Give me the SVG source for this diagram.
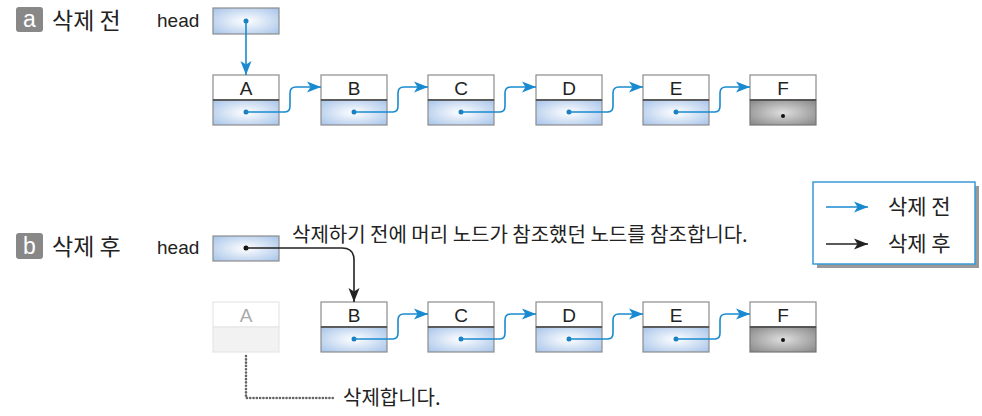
<svg xmlns="http://www.w3.org/2000/svg" width="982" height="416" viewBox="0 0 982 416">
<defs>
<radialGradient id="gb" cx="0.5" cy="0.5" r="0.75">
<stop offset="0" stop-color="#ffffff"/><stop offset="1" stop-color="#9fbfe8"/>
</radialGradient>
<radialGradient id="gg" cx="0.5" cy="0.5" r="0.75">
<stop offset="0" stop-color="#dedede"/><stop offset="1" stop-color="#7f7f7f"/>
</radialGradient>
<marker id="ab" markerUnits="userSpaceOnUse" markerWidth="16" markerHeight="12" refX="15" refY="6" orient="auto">
<path d="M1,0.5 L15,6 L1,11.5 L4.5,6 z" fill="#1a8ad0"/>
</marker>
<marker id="ak" markerUnits="userSpaceOnUse" markerWidth="16" markerHeight="12" refX="15" refY="6" orient="auto">
<path d="M1,0.5 L15,6 L1,11.5 L4.5,6 z" fill="#222"/>
</marker>
</defs>
<style>
.ko{font-family:"Noto Sans CJK KR","Noto Sans",sans-serif;fill:#222}
.la{font-family:"Liberation Sans",Arial,sans-serif;fill:#222}
.top{fill:#fff;stroke:#8c8c8c;stroke-width:1.2}
.bot{fill:url(#gb);stroke:#8c8c8c;stroke-width:1.2}
.botg{fill:url(#gg);stroke:#777;stroke-width:1.2}
.div{stroke:#444;stroke-width:1.5}
.ltr{font-family:"Liberation Sans",Arial,sans-serif;font-size:19px;fill:#222;text-anchor:middle}
.bl{fill:none;stroke:#1a8ad0;stroke-width:1.6}
.bk{fill:none;stroke:#222;stroke-width:1.6}
.tag{fill:#888}
.tagt{font-family:"Liberation Sans",Arial,sans-serif;font-size:23px;fill:#fff;text-anchor:middle}
</style>

<!-- Section a -->
<g id="label-a">
<rect class="tag" x="16" y="7" width="27" height="25" rx="3"/>
<text class="tagt" x="29.5" y="27">a</text>
<text class="ko" x="52" y="29" font-size="23">삭제 전</text>
</g>
<g id="head-a">
<text class="la" x="157" y="27" font-size="19">head</text>
<rect class="bot" x="213" y="8" width="66" height="26"/>
<circle cx="246" cy="21" r="2.5" fill="#1a7fc0"/>
</g>

<g id="a-A"><rect class="top" x="213" y="75" width="66" height="25"/><rect class="bot" x="213" y="100" width="66" height="25"/><line class="div" x1="213" y1="100" x2="279" y2="100"/><text class="ltr" x="246" y="95">A</text><circle cx="246" cy="112" r="2.5" fill="#1a7fc0"/></g>
<g id="a-B"><rect class="top" x="321" y="75" width="66" height="25"/><rect class="bot" x="321" y="100" width="66" height="25"/><line class="div" x1="321" y1="100" x2="387" y2="100"/><text class="ltr" x="354" y="95">B</text><circle cx="354" cy="112" r="2.5" fill="#1a7fc0"/></g>
<g id="a-C"><rect class="top" x="428" y="75" width="66" height="25"/><rect class="bot" x="428" y="100" width="66" height="25"/><line class="div" x1="428" y1="100" x2="494" y2="100"/><text class="ltr" x="461" y="95">C</text><circle cx="461" cy="112" r="2.5" fill="#1a7fc0"/></g>
<g id="a-D"><rect class="top" x="536" y="75" width="66" height="25"/><rect class="bot" x="536" y="100" width="66" height="25"/><line class="div" x1="536" y1="100" x2="602" y2="100"/><text class="ltr" x="569" y="95">D</text><circle cx="569" cy="112" r="2.5" fill="#1a7fc0"/></g>
<g id="a-E"><rect class="top" x="643" y="75" width="66" height="25"/><rect class="bot" x="643" y="100" width="66" height="25"/><line class="div" x1="643" y1="100" x2="709" y2="100"/><text class="ltr" x="676" y="95">E</text><circle cx="676" cy="112" r="2.5" fill="#1a7fc0"/></g>
<g id="a-F"><rect class="top" x="750" y="75" width="66" height="25"/><rect class="botg" x="750" y="100" width="66" height="25"/><line class="div" x1="750" y1="100" x2="816" y2="100"/><text class="ltr" x="783" y="95">F</text><circle cx="783" cy="116" r="2" fill="#111"/></g>

<!-- Section b -->
<g id="label-b">
<rect class="tag" x="16" y="233" width="27" height="26" rx="3"/>
<text class="tagt" x="29.5" y="254">b</text>
<text class="ko" x="52" y="255" font-size="23">삭제 후</text>
</g>
<g id="head-b">
<text class="la" x="157" y="254" font-size="19">head</text>
<rect class="bot" x="213" y="236" width="66" height="25"/>
<circle cx="246" cy="248" r="2.5" fill="#111"/>
</g>
<g id="note-ref"><text class="ko" x="292" y="242" font-size="20">삭제하기 전에 머리 노드가 참조했던 노드를 참조합니다.</text></g>

<g id="b-A"><rect x="213" y="302" width="66" height="25" fill="#fff" stroke="#e6e6e6" stroke-width="1.2"/><rect x="213" y="327" width="66" height="25" fill="#f2f2f2" stroke="#e6e6e6" stroke-width="1.2"/><text class="ltr" x="246" y="322" style="fill:#aaa">A</text></g>
<g id="b-B"><rect class="top" x="321" y="302" width="66" height="25"/><rect class="bot" x="321" y="327" width="66" height="25"/><line class="div" x1="321" y1="327" x2="387" y2="327"/><text class="ltr" x="354" y="322">B</text><circle cx="354" cy="339" r="2.5" fill="#1a7fc0"/></g>
<g id="b-C"><rect class="top" x="428" y="302" width="66" height="25"/><rect class="bot" x="428" y="327" width="66" height="25"/><line class="div" x1="428" y1="327" x2="494" y2="327"/><text class="ltr" x="461" y="322">C</text><circle cx="461" cy="339" r="2.5" fill="#1a7fc0"/></g>
<g id="b-D"><rect class="top" x="536" y="302" width="66" height="25"/><rect class="bot" x="536" y="327" width="66" height="25"/><line class="div" x1="536" y1="327" x2="602" y2="327"/><text class="ltr" x="569" y="322">D</text><circle cx="569" cy="339" r="2.5" fill="#1a7fc0"/></g>
<g id="b-E"><rect class="top" x="643" y="302" width="66" height="25"/><rect class="bot" x="643" y="327" width="66" height="25"/><line class="div" x1="643" y1="327" x2="709" y2="327"/><text class="ltr" x="676" y="322">E</text><circle cx="676" cy="339" r="2.5" fill="#1a7fc0"/></g>
<g id="b-F"><rect class="top" x="750" y="302" width="66" height="25"/><rect class="botg" x="750" y="327" width="66" height="25"/><line class="div" x1="750" y1="327" x2="816" y2="327"/><text class="ltr" x="783" y="322">F</text><circle cx="783" cy="340" r="2" fill="#111"/></g>

<g id="note-del"><text class="ko" x="343" y="405" font-size="20">삭제합니다.</text></g>

<g id="legend">
<rect x="817" y="186" width="162" height="82" fill="#999"/>
<rect x="813" y="182" width="162" height="82" fill="#fff" stroke="#3a9ad6" stroke-width="1.5"/>
<line class="bl" x1="826" y1="207" x2="868" y2="207" marker-end="url(#ab)"/>
<text class="ko" x="888" y="214" font-size="21">삭제 전</text>
<line class="bk" x1="826" y1="244" x2="868" y2="244" marker-end="url(#ak)"/>
<text class="ko" x="888" y="251" font-size="21">삭제 후</text>
</g>

<g id="connectors">
<path class="bl" d="M246,21 V75" marker-end="url(#ab)"/>
<path class="bl" d="M246,112 H285 Q290,112 290,106 V93 Q290,87 296,87 H321" marker-end="url(#ab)"/>
<path class="bl" d="M354,112 H393 Q398,112 398,106 V93 Q398,87 404,87 H428" marker-end="url(#ab)"/>
<path class="bl" d="M461,112 H500 Q505,112 505,106 V93 Q505,87 511,87 H536" marker-end="url(#ab)"/>
<path class="bl" d="M569,112 H608 Q613,112 613,106 V93 Q613,87 619,87 H643" marker-end="url(#ab)"/>
<path class="bl" d="M676,112 H715 Q720,112 720,106 V93 Q720,87 726,87 H750" marker-end="url(#ab)"/>
<path class="bk" d="M246,248 H342 Q354,248 354,260 V302" marker-end="url(#ak)"/>
<path class="bl" d="M354,339 H393 Q398,339 398,333 V320 Q398,314 404,314 H428" marker-end="url(#ab)"/>
<path class="bl" d="M461,339 H500 Q505,339 505,333 V320 Q505,314 511,314 H536" marker-end="url(#ab)"/>
<path class="bl" d="M569,339 H608 Q613,339 613,333 V320 Q613,314 619,314 H643" marker-end="url(#ab)"/>
<path class="bl" d="M676,339 H715 Q720,339 720,333 V320 Q720,314 726,314 H750" marker-end="url(#ab)"/>
<path d="M246,356 V398 H336" fill="none" stroke="#666" stroke-width="2.6" stroke-dasharray="0.1 3.2" stroke-linecap="round"/>
</g>
</svg>
